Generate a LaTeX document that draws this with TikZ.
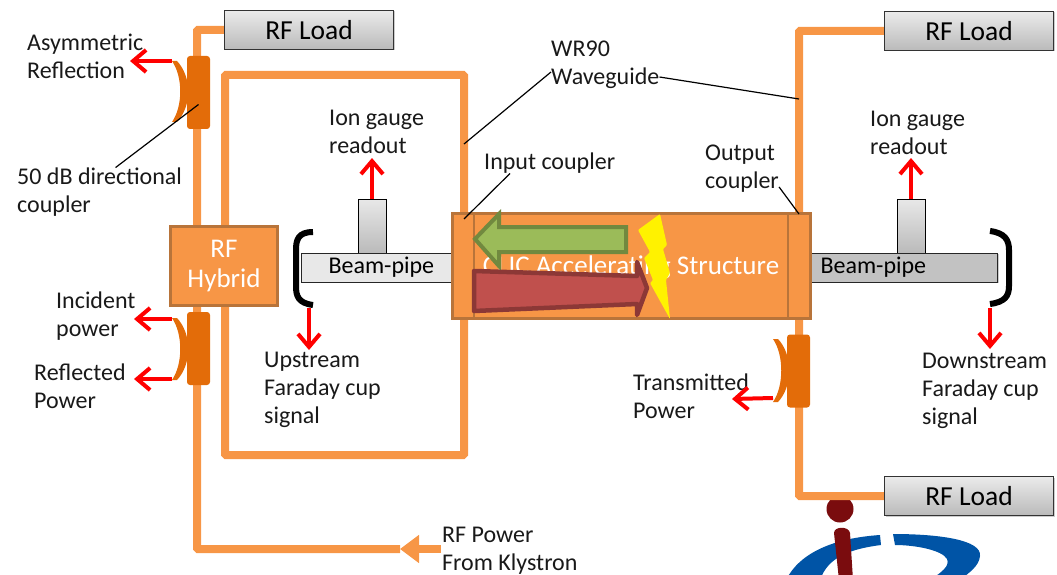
\documentclass[tikz,border=0pt]{standalone}
\usepackage{fontspec}
\setmainfont{Carlito}
\usepackage{xcolor}
\usetikzlibrary{arrows.meta, shadows}
\definecolor{pipeorange}{RGB}{247,150,70}
\definecolor{edgeorange}{RGB}{184,116,58}
\definecolor{darkorange}{RGB}{227,108,9}
\definecolor{signalred}{RGB}{255,0,0}
\definecolor{arrowgreen}{RGB}{155,187,89}
\definecolor{edgegreen}{RGB}{113,137,63}
\definecolor{arrowred}{RGB}{192,80,77}
\definecolor{edgered}{RGB}{140,56,54}
\definecolor{logoblue}{RGB}{0,84,166}
\definecolor{logomaroon}{RGB}{122,12,14}
\newcommand{\couplerarc}[3]{%
  \fill[darkorange] (#1+5,#2) .. controls (#1+20,#2+16) and (#1+20,#3-16) .. (#1+5,#3)
    -- (#1,#3) .. controls (#1+11,#3-16) and (#1+11,#2+16) .. (#1,#2) -- cycle;
}
\begin{document}
\begin{tikzpicture}[
  x=1pt, y=-1pt,
  pipe/.style={draw=pipeorange, line width=8pt, rounded corners=1pt},
  load/.style={draw=black!80, line width=1.5pt, top color=black!8, bottom color=black!27,
               minimum width=169pt, minimum height=39pt, inner sep=0pt,
               font=\fontsize{27.5}{30}\selectfont, drop shadow={shadow xshift=1pt, shadow yshift=-1pt, opacity=0.4}},
  couplerbox/.style={fill=darkorange, rounded corners=3pt, minimum width=23pt,
                     minimum height=73pt, inner sep=0pt},
  orangebox/.style={fill=pipeorange, draw=edgeorange, line width=2.2pt, inner sep=0pt},
  gauge/.style={draw=black, line width=1pt, top color=black!9, bottom color=black!27,
                minimum width=28pt, minimum height=54pt, inner sep=0pt},
  beampipe/.style={draw=black!85, line width=1pt, minimum height=29pt, inner sep=0pt,
                   font=\fontsize{24}{26}\selectfont, drop shadow={shadow xshift=1pt, shadow yshift=-1pt, opacity=0.4}},
  lbl/.style={anchor=west, align=left, inner sep=0pt, text=black!90, yshift=-1pt,
              font=\fontsize{24}{28}\selectfont},
  signal/.style={draw=signalred, line width=4pt, -{Straight Barb[length=13pt,width=22pt,line width=4pt]}},
  callout/.style={draw=black, line width=1.2pt},
  cup/.style={draw=black, line width=6pt}
]
  \useasboundingbox (0,0) rectangle (1057,575);

  % logo under the bottom load line
  \begin{scope}
    \clip (0,0) rectangle (1057,575);
    \fill[logoblue] (786,580) .. controls (800,552) and (835,538) .. (880,535)
      -- (881,545) .. controls (850,549) and (828,557) .. (820,580) -- cycle;
    \fill[logoblue] (893,534) .. controls (940,534) and (982,540) .. (980,556)
      .. controls (979,566) and (970,572) .. (960,580) -- (930,580)
      .. controls (942,572) and (950,566) .. (947,559)
      .. controls (942,550) and (915,545) .. (895,545) -- cycle;
    \fill[logomaroon] (840,509) circle (13.5pt);
    \fill[logomaroon] (834,533) .. controls (834,526) and (849,526) .. (850,533)
      -- (853,580) -- (839,580) -- cycle;
  \end{scope}

  % loads
  \node[load] (loadA) at (309,30) {RF Load};
  \node[load] (loadB) at (969,31) {RF Load};
  \node[load] (loadC) at (969,496) {RF Load};

  % blocks, placed first so that pipes can be named from them
  \coordinate (hybA) at (197,226);
  \coordinate (hybB) at (225,226);
  \coordinate (hybC) at (197,306);
  \coordinate (hybD) at (225,306);
  \coordinate (feed) at (441,549);
  \coordinate (feedtip) at (400,549);
  \coordinate (wallTop) at (464,75);
  \coordinate (wallBot) at (464,455);
  \coordinate (outTop) at (799,320);
  \coordinate (inTop) at (464,214);
  \coordinate (outUp) at (799,214);

  \draw[pipe] (loadA.west) -| (hybA);
  \draw[pipe] (hybB) |- (wallTop) -- (inTop);
  \draw[pipe] (hybD) |- (wallBot) -- (inTop);
  \draw[pipe, -{Triangle[length=19pt,width=27pt]}] (feed) -- (feedtip);
  \draw[pipe] (feedtip) -| (hybC);
  \draw[pipe] (loadB.west) -| (outUp);
  \draw[pipe] (loadC.west) -| (outTop);

  % couplers
  \node[couplerbox] (cplA) at (198.5,92.5) {};
  \node[couplerbox] (cplB) at (198.5,348.5) {};
  \node[couplerbox] (cplC) at (798.5,371) {};
  \couplerarc{172}{61}{122}
  \couplerarc{172}{318}{380}
  \couplerarc{773}{339}{402}
  \coordinate (arcA) at (172,61);
  \coordinate (arcB) at (172,319);
  \coordinate (arcC) at (172,379);
  \coordinate (arcD) at (773,398);

  \node[orangebox, minimum width=107pt, minimum height=79pt, align=center, text=white,
        font=\fontsize{27}{30}\selectfont] (hybrid) at (224,266) {RF\\Hybrid};

  % beam line
  \node[gauge] (gaugeA) at (372,226) {};
  \node[gauge] (gaugeB) at (911,226) {};
  \node[beampipe, fill=black!9, minimum width=152pt] (pipeA) at (377,267.5) {\hspace{-1pt}\makebox[148pt][l]{\hspace{26pt}\raisebox{-1.5pt}{Beam-pipe}}};
  \node[beampipe, fill=black!24, minimum width=187pt] (pipeB) at (904,267.5) {\makebox[183pt][l]{\hspace{8pt}\raisebox{-0.5pt}{Beam-pipe}}};

  % structure
  \node[orangebox, minimum width=358pt, minimum height=105pt] (cavity) at (631.5,266) {};
  \draw[edgeorange, line width=2pt] (cavity.north west -| 474,0) ++(0,0) -- (cavity.south west -| 474,0);
  \draw[edgeorange, line width=2pt] (cavity.north west -| 788,0) ++(0,0) -- (cavity.south west -| 788,0);
  \node[inner sep=0pt, text=white, font=\fontsize{27}{30}\selectfont] (cavitytxt) at (631,267) {CLIC Accelerating Structure};

  \draw[fill=arrowgreen, draw=edgegreen, line width=4pt, miter limit=4]
    (475,239) -- (499,214) -- (499,227) -- (626,227) -- (626,252) -- (499,252) -- (499,266) -- cycle;
  \draw[fill=arrowred, draw=edgered, line width=4.5pt, line join=round]
    (474,271) -- (637,276) -- (637,262) -- (647,288) -- (637,315) -- (637,304) -- (474,311) -- cycle;
  \fill[yellow, rounded corners=1pt] (660,214) -- (638,230) -- (650,252) -- (644,258) -- (653,280) -- (650,283)
    -- (670,319) -- (666,280) -- (670,273) -- (663,249) -- (667,245) -- cycle;

  % cups
  \draw[cup] (313,232) .. controls (298,232) and (296,240) .. (296,250) -- (296,286)
    .. controls (296,296) and (298,303) .. (313,305);
  \draw[cup] (990,231) .. controls (1005,233) and (1009,240) .. (1009,250) -- (1009,286)
    .. controls (1009,296) and (1005,302) .. (990,304);

  % texts
  \node[lbl] (asym) at (27,55) {Asymmetric\\Reflection};
  \node[lbl] (direc) at (17,191) {50 dB directional\\coupler};
  \node[lbl] (incid) at (56,315) {Incident\\power};
  \node[lbl] (refl) at (34,385) {Reflected\\Power};
  \node[lbl] (upfc) at (264,389) {Upstream\\Faraday cup\\signal};
  \node[lbl] (ionA) at (329,131) {Ion gauge\\readout};
  \node[lbl] (ionB) at (870,132) {Ion gauge\\readout};
  \node[lbl] (wgd) at (551,64) {WR90\\Waveguide};
  \node[lbl] (incpl) at (484,162) {Input coupler};
  \node[lbl] (outcpl) at (705,168) {Output\\coupler};
  \node[lbl] (trans) at (633,395) {Transmitted\\Power};
  \node[lbl] (downfc) at (922,390) {Downstream\\Faraday cup\\signal};
  \node[lbl] (klys) at (442,550) {RF Power\\From Klystron};

  % call-outs
  \draw[callout] ([xshift=16pt]direc.north) -- ([yshift=-12pt]cplA.center);
  \draw[callout] ([yshift=-7pt]wgd.west) -- (464,144);
  \draw[callout] ([yshift=-12pt]wgd.east) -- (799,99);
  \draw[callout] ([xshift=26pt]incpl.south west) -- ([yshift=-5pt]inTop);
  \draw[callout] ([yshift=6pt]outcpl.south east) -- (outUp);

  % signals
  \draw[signal] (arcA) -- (130,61);
  \draw[signal] (arcB) -- (134,319);
  \draw[signal] (arcC) -- (134,379);
  \draw[signal] (arcD) -- (732,399);
  \draw[signal] (gaugeA.north) -- (372,158);
  \draw[signal] (gaugeB.north) -- (911,158);
  \coordinate (cupA) at (309,308);
  \coordinate (cupB) at (990,308);
  \draw[signal] (cupA) -- (309,350);
  \draw[signal] (cupB) -- (990,349);
\end{tikzpicture}
\end{document}
